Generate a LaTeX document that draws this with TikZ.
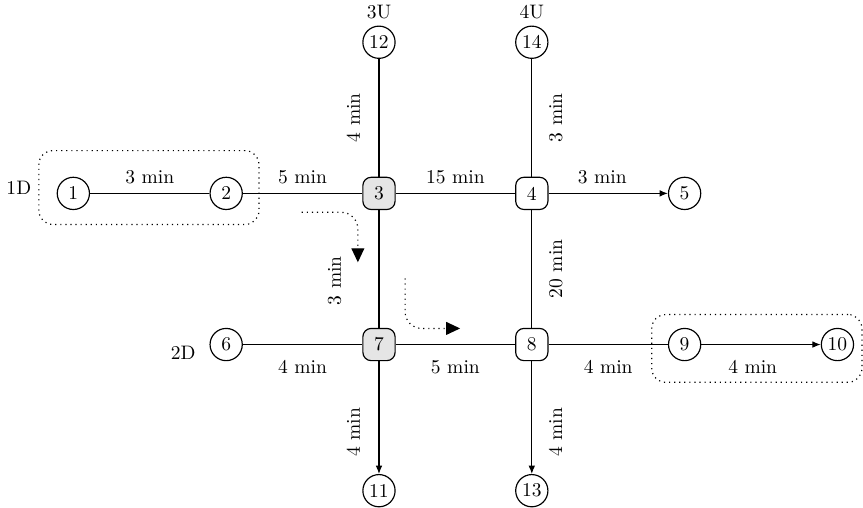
\documentclass[tikz,border=0pt]{standalone}
\usetikzlibrary{positioning,fit,calc,arrows.meta}
\tikzset{stopc/.style={draw, circle, minimum size=0.58cm, inner sep=0pt},
    junc/.style={draw, rounded corners=1.5mm, minimum size=0.58cm, inner sep=0pt},
    hub/.style={junc, fill=gray!20},
    line/.style={-{Latex[length=1.5mm,width=1.2mm]}},
    grp/.style={draw, dotted, rounded corners=0.25cm, inner sep=0pt},
    turn/.style={dotted, rounded corners=0.3cm, -{Triangle[length=0.25cm,width=0.23cm]}},
    tabove/.style={above, inner ysep=4.5pt},
    tbelow/.style={below, inner ysep=8pt},
    tleft/.style={rotate=90, anchor=south, inner ysep=9.5pt},
    tright/.style={rotate=90, anchor=north, inner ysep=8.5pt}}

\begin{document}
\begin{tikzpicture}[line width=0.6pt, node distance=2.72cm and 2.75cm, on grid]
    \useasboundingbox (-6.82,-5.66) rectangle (8.71,3.48);

    \node[hub]                      (n3)  {3};
    \node[stopc,left=of n3]         (n2)  {2};
    \node[stopc,left=of n2]         (n1)  {1};
    \node[junc,right=of n3]         (n4)  {4};
    \node[stopc,right=of n4]        (n5)  {5};
    \node[stopc,above=of n3,label=above:3U] (n12) {12};
    \node[stopc,above=of n4,label=above:4U] (n14) {14};
    \node[hub,below=of n3]          (n7)  {7};
    \node[stopc,left=of n7,label={[label distance=3.5pt,yshift=-4pt]left:2D}] (n6) {6};
    \node[junc,right=of n7]         (n8)  {8};
    \node[stopc,right=of n8]        (n9)  {9};
    \node[stopc,right=of n9]        (n10) {10};
    \node[stopc,below=2.63cm of n7] (n11) {11};
    \node[stopc,below=2.63cm of n8] (n13) {13};

    % dotted groups
    \node[grp,fit={($(n1.west)+(-0.32,0.77)$) ($(n2.east)+(0.29,-0.56)$)},label=left:1D] (g1) {};
    \node[grp,fit={($(n9.west)+(-0.29,0.54)$) ($(n10.east)+(0.14,-0.68)$)}] (g2) {};

    \draw               (n1) -- node[tabove] {3 min} (n2);
    \draw               (n2) -- node[tabove] {5 min} (n3);
    \draw               (n3) -- node[tabove] {15 min} (n4);
    \draw[line]         (n4) -- node[tabove,pos=0.45] {3 min} (n5);
    \draw               (n12)-- node[tleft] {4 min} (n3);
    \draw               (n14)-- node[tright] {3 min} (n4);
    \draw               (n3) -- node[tleft,pos=0.6,inner ysep=19pt] {3 min} (n7);
    \draw               (n4) -- node[tright] {20 min} (n8);
    \draw               (n6) -- node[tbelow] {4 min} (n7);
    \draw               (n7) -- node[tbelow] {5 min} (n8);
    \draw               (n8) -- node[tbelow] {4 min} (n9);
    \draw[line]         (n9) -- node[tbelow,pos=0.43] {4 min} (n10);
    \draw[line]         (n7) -- node[tleft,pos=0.63] {4 min} (n11);
    \draw[line]         (n8) -- node[tright,pos=0.63] {4 min} (n13);

    % turning moves
    \coordinate (r1) at ($(n3)+(-1.39,-0.34)$);
    \coordinate (r2) at ($(n3)+(-0.38,-1.24)$);
    \coordinate (r3) at ($(n3)+(0.47,-1.53)$);
    \coordinate (r4) at ($(n3)+(1.46,-2.43)$);
    \draw[turn]         (r1) -| (r2);
    \draw[turn]         (r3) |- (r4);
\end{tikzpicture}
\end{document}
